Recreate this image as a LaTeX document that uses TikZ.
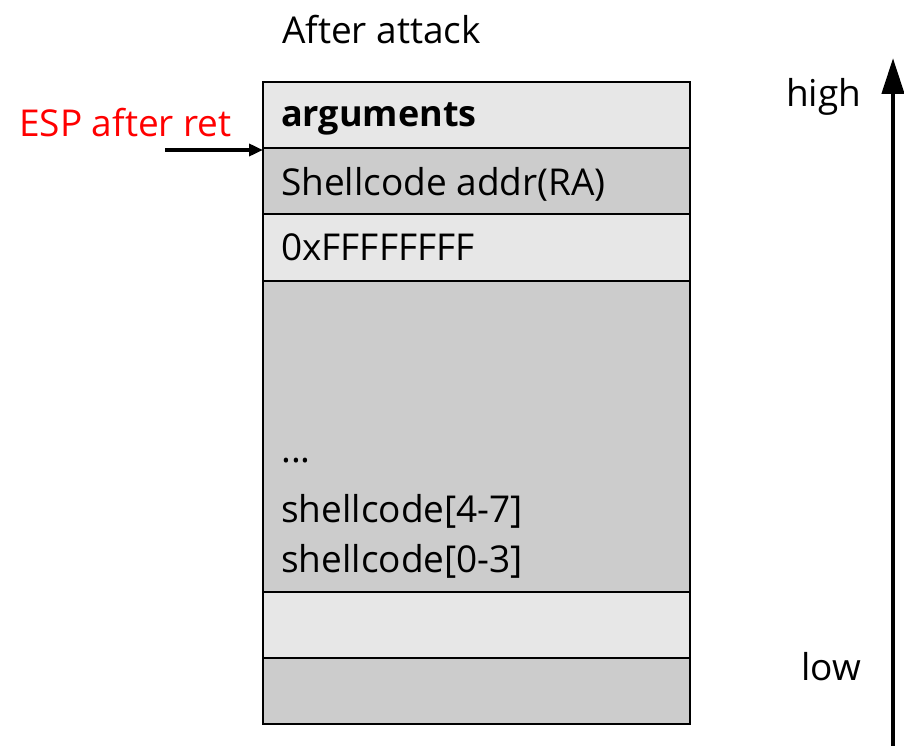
\documentclass[tikz,border=0pt]{standalone}
\usepackage{fontspec}
\setmainfont{Open Sans}
\usetikzlibrary{arrows.meta}
\definecolor{cellLight}{HTML}{E7E7E7}
\definecolor{cellDark}{HTML}{CCCCCC}
\begin{document}
\begin{tikzpicture}[x=1pt,y=-1pt,
  cell/.style={draw=black,line width=2.5pt},
  lbl/.style={anchor=base west,inner sep=0pt,font=\fontsize{37}{44}\selectfont}]
\useasboundingbox[fill=white] (0,0) rectangle (904,746);
% stack cells, top to bottom
\filldraw[cell,fill=cellLight] (263,82) rectangle (690,148);
\filldraw[cell,fill=cellDark]  (263,148) rectangle (690,214);
\filldraw[cell,fill=cellLight] (263,214) rectangle (690,281);
\filldraw[cell,fill=cellDark]  (263,281) rectangle (690,592);
\filldraw[cell,fill=cellLight] (263,592) rectangle (690,658);
\filldraw[cell,fill=cellDark]  (263,658) rectangle (690,724);
% cell contents
\node[lbl,font=\fontsize{36}{44}\selectfont\bfseries] (args) at (281,127) {arguments};
\node[lbl] (ra) at (281,195) {Shellcode addr(RA)};
\node[lbl] (ff) at (281,260) {0xFFFFFFFF};
\node[lbl] (dots) at (281,462) {...};
\node[lbl] (sc47) at (281,522) {shellcode[4-7]};
\node[lbl] (sc03) at (281,572) {shellcode[0-3]};
% captions
\node[lbl] (title) at (282,44) {After attack};
\node[lbl,text=red] (esp) at (19,137) {ESP after ret};
\node[lbl] (high) at (786,107) {high};
\node[lbl] (low) at (801,680) {low};
% stack pointer arrow
\coordinate (espTail) at (165,150);
\coordinate (espHead) at (263,150);
\draw[line width=3.5pt,-{Triangle[length=14pt,width=12pt]}] (espTail) -- (espHead);
% address direction arrow
\coordinate (dirBot) at (893,746);
\coordinate (dirTop) at (893,58);
\draw[line width=4.5pt,-{Triangle[length=36pt,width=22pt]}] (dirBot) -- (dirTop);
\end{tikzpicture}
\end{document}
